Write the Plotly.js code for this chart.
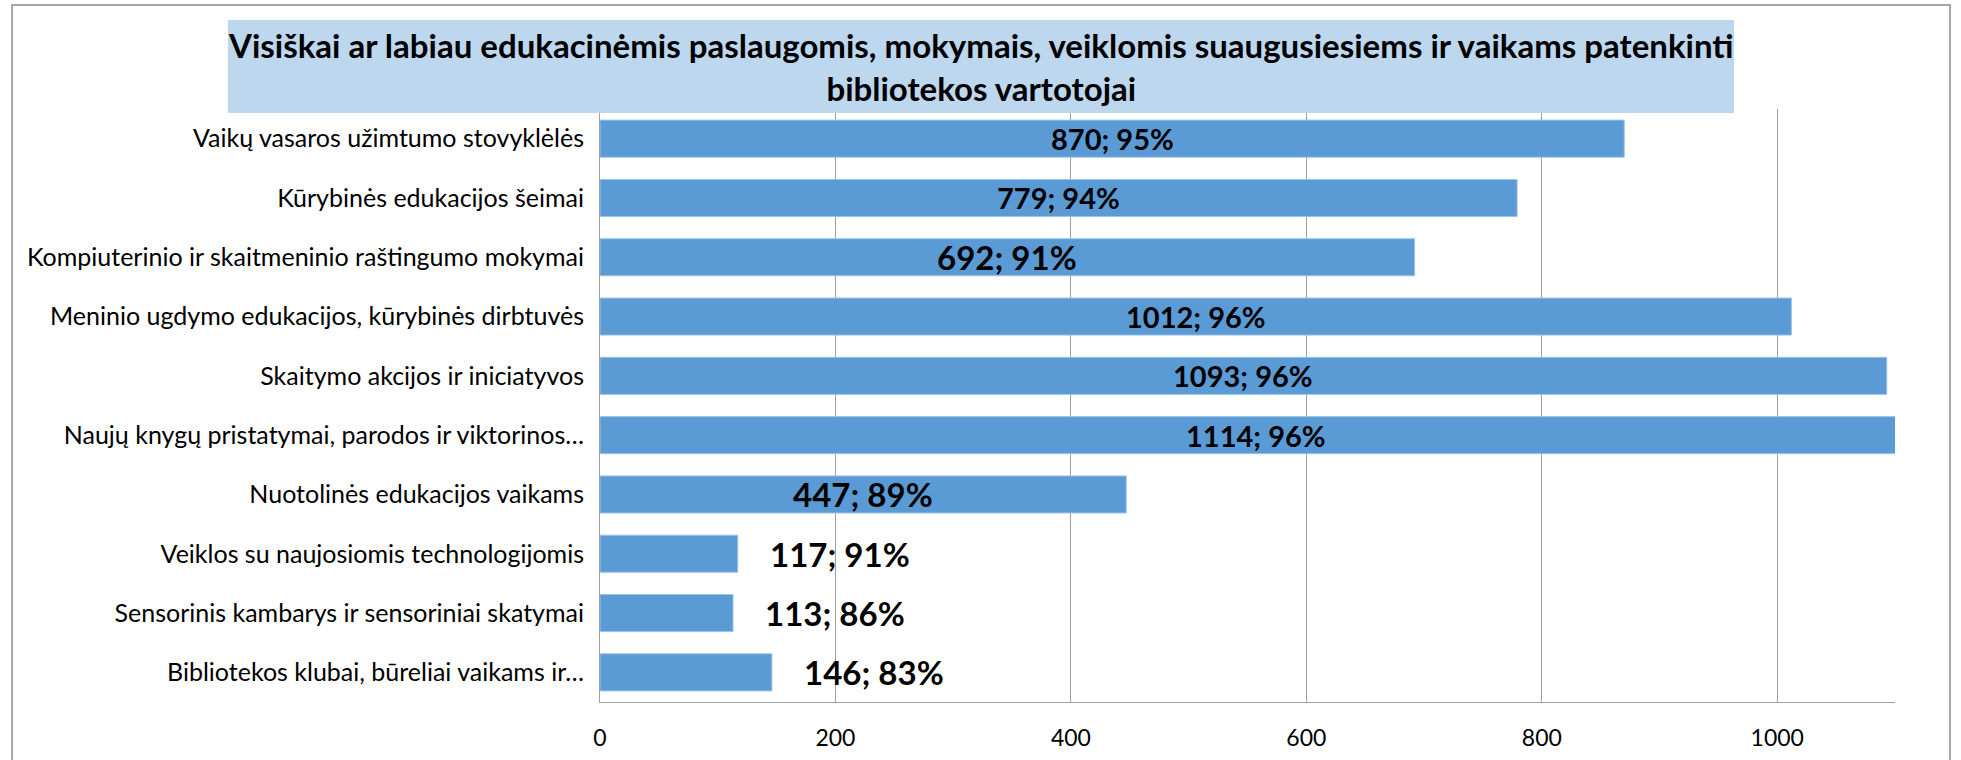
<!DOCTYPE html>
<html>
<head>
<meta charset="utf-8">
<script src="https://cdn.plot.ly/plotly-3.0.1.min.js"></script>
<style>
  html, body { margin: 0; padding: 0; background: #fff; }
  #chart { width: 1961px; height: 760px; }
</style>
</head>
<body>
<div id="chart"></div>
<script>
// Satisfied library users by activity type: count and share
const categories = [
    'Vaikų vasaros užimtumo stovyklėlės',
    'Kūrybinės edukacijos šeimai',
    'Kompiuterinio ir skaitmeninio raštingumo mokymai',
    'Meninio ugdymo edukacijos, kūrybinės dirbtuvės',
    'Skaitymo akcijos ir iniciatyvos',
    'Naujų knygų pristatymai, parodos ir viktorinos…',
    'Nuotolinės edukacijos vaikams',
    'Veiklos su naujosiomis technologijomis',
    'Sensorinis kambarys ir sensoriniai skatymai',
    'Bibliotekos klubai, būreliai vaikams ir…'
];
const counts = [870, 779, 692, 1012, 1093, 1114, 447, 117, 113, 146];
const shares = [95, 94, 91, 96, 96, 96, 89, 91, 86, 83];
const xTicks = [0, 200, 400, 600, 800, 1000];

// labels drawn with the larger font in the original
const bigLabels = [2, 6, 7, 8, 9];

const font = 'Lato, "Open Sans", sans-serif';
const xMax = 1100;

const labels = counts.map((c, i) => `${c}; ${shares[i]}%`);

// small bars get their label outside, the rest centred inside
const annotations = counts.map((c, i) => {
    const inside = c > 300;
    return {
        x: inside ? c / 2 : c,
        y: categories[i],
        xref: 'x', yref: 'y',
        text: '<b>' + labels[i] + '</b>',
        showarrow: false,
        xanchor: inside ? 'center' : 'left',
        yanchor: 'middle',
        xshift: inside ? 0 : 30,
        font: { family: font, size: bigLabels.includes(i) ? 33 : 29, color: '#000' }
    };
});

// title in its light blue box
annotations.push({
    xref: 'paper', yref: 'paper',
    x: 0.2942, y: 1.0717,
    xanchor: 'center', yanchor: 'middle',
    showarrow: false,
    text: '<b>Visiškai ar labiau edukacinėmis paslaugomis, mokymais, veiklomis suaugusiesiems ir vaikams patenkinti<br>bibliotekos vartotojai</b>',
    font: { family: font, size: 33, color: '#000' }
});

const data = [{
    type: 'bar',
    orientation: 'h',
    y: categories,
    x: counts,
    marker: { color: '#5b9bd5', line: { color: '#9dc3e6', width: 1 } },
    hoverinfo: 'skip'
}];

const layout = {
    width: 1961,
    height: 760,
    margin: { l: 600, r: 66, t: 109, b: 58 },
    paper_bgcolor: '#fff',
    plot_bgcolor: '#fff',
    showlegend: false,
    bargap: 0.375,
    font: { family: font, color: '#000' },
    xaxis: {
        range: [0, xMax],
        tickvals: xTicks,
        showgrid: true,
        gridcolor: '#a0a0a0',
        gridwidth: 1,
        zeroline: false,
        showline: true,
        linecolor: '#a0a0a0',
        linewidth: 1,
        tickfont: { family: font, size: 23, color: '#000' },
        ticklabelstandoff: 15,
        fixedrange: true
    },
    yaxis: {
        type: 'category',
        autorange: 'reversed',
        showgrid: false,
        zeroline: false,
        showline: true,
        linecolor: '#a0a0a0',
        linewidth: 1,
        tickfont: { family: font, size: 25, color: '#000' },
        ticklabelstandoff: 10,
        fixedrange: true
    },
    shapes: [
        // outer chart border
        {
            type: 'rect', xref: 'paper', yref: 'paper',
            x0: -0.454, x1: 1.0425, y0: -0.2, y1: 1.1754,
            line: { color: '#a6a6a6', width: 2 },
            fillcolor: 'rgba(0,0,0,0)', layer: 'below'
        },
        // title box
        {
            type: 'rect', xref: 'paper', yref: 'paper',
            x0: -0.2873, x1: 0.8757, y0: 0.9933, y1: 1.1501,
            line: { width: 0 },
            fillcolor: '#bdd7ee', layer: 'above'
        }
    ],
    annotations: annotations
};

Plotly.newPlot('chart', data, layout, { displayModeBar: false, staticPlot: true });
</script>
</body>
</html>
